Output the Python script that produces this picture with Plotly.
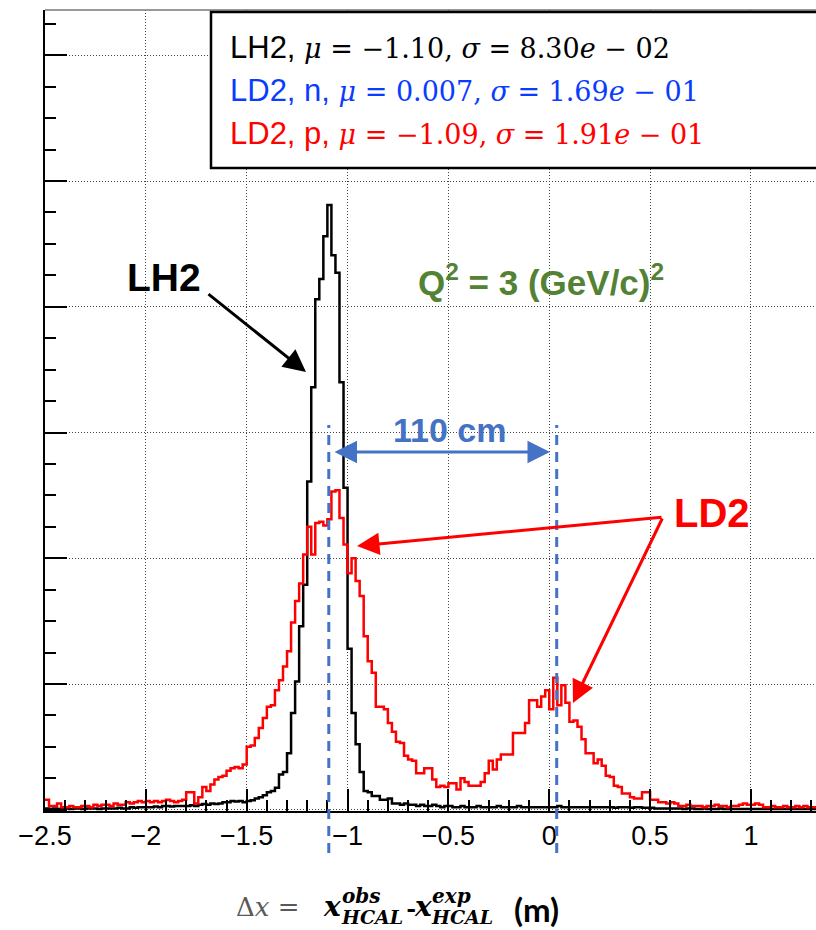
import numpy as np
import plotly.graph_objects as go

# ---------------- data ----------------
BIN_START = -2.50
BIN_WIDTH = 0.02

lh2_counts = [
    # -2.50 .. -2.02
    1, 0.5, 1, 0.5, 1, 1, 0.5, 1, 1, 0.5, 1, 1, 1, 0.5, 1, 1, 1, 1, 1.5, 1, 1, 2, 1.5, 2, 2,
    # -2.00 .. -1.52
    2, 2, 2.5, 2, 3, 3, 2.5, 3, 3, 3, 3, 3.5, 3, 4, 4.5, 4, 5, 4.5, 5, 6, 6, 7, 6.5, 7, 6,
    # -1.50 .. -1.02
    7, 7.5, 9, 10, 11.5, 14, 15, 17.5, 28, 30, 45, 77, 102, 146, 179, 261, 336, 406, 422, 456, 481, 441, 427, 340, 256,
    # -1.00 .. -0.52
    128, 77, 52, 30, 15, 14, 11, 11, 8, 8, 9, 5, 5, 4, 5, 4, 4, 3, 4, 3, 3, 4, 3, 2, 3,
    # -0.50 .. -0.02
    3, 2, 2, 3, 2, 2, 2, 3, 2, 2, 2, 2, 3, 2, 2, 2, 2, 3, 2, 2, 2, 2, 2, 2, 2,
    # 0.00 .. 0.48
    2, 2, 3, 2, 2, 2, 2, 2, 2, 2, 2, 2, 2, 2, 2, 2, 1.5, 2, 2, 2, 1.5, 2, 2, 1.5, 1.5,
    # 0.50 .. 1.32
    1.5, 1, 1, 1, 1, 1, 1, 1, 0.5, 1, 1, 0.5, 0.5, 1, 0.5, 0.5, 0.5, 1, 0.5, 0.5,
    0.5, 0.5, 0.5, 0.5, 0.5, 0.5, 0.5, 0.5, 0.5, 0.5, 0.5, 0.5, 0.5, 0.5, 0.5, 0.5,
    0.5, 0.5, 0.5, 0.5, 0.5, 0.5,
]

ld2_counts = [
    # -2.50 .. -2.02
    8, 3, 3, 5, 2, 2, 3, 2, 2, 3, 3, 2, 4, 3, 4, 4, 3, 5, 4, 4, 6, 5, 6, 7, 6,
    # -2.00 .. -1.52
    7, 6, 7, 6, 7, 8, 7, 6, 7, 8, 14, 14, 5, 10, 18, 15, 20, 24, 26, 27, 31, 33, 34, 33, 36,
    # -1.50 .. -1.02
    50, 51, 57, 65, 73, 82, 83, 95, 103, 114, 126, 149, 166, 180, 203, 225, 203, 228, 229, 226, 231, 253, 254, 232, 211,
    # -1.00 .. -0.52
    188, 200, 182, 170, 138, 118, 109, 82, 82, 80, 69, 62, 54, 53, 43, 40, 39, 29, 29, 33, 33, 24, 18, 19, 18,
    # -0.50 .. -0.02
    21, 21, 16, 25, 22, 19, 19, 19, 22, 29, 39, 32, 40, 44, 44, 44, 61, 61, 61, 69, 87, 87, 82, 90, 95,
    # 0.00 .. 0.48
    80, 105, 83, 99, 85, 70, 71, 66, 56, 45, 45, 37, 40, 35, 27, 26, 19, 18, 13, 13, 10, 9, 9, 14, 14,
    # 0.50 .. 1.32
    8, 8, 6, 6, 5, 6, 5, 3, 3, 4, 3, 3, 3, 2, 3, 3, 4, 3, 3, 2,
    3, 3, 4, 5, 4, 4, 5, 4, 2, 2, 3, 2, 2, 3, 2, 2, 3, 2, 3, 2,
    2, 2,
]

x_tick_vals = [-2.5, -2, -1.5, -1, -0.5, 0, 0.5, 1]
peak_positions = [-1.093, 0.037]   # dashed guide lines

legend_lines = [
    ("LH2, ", "<i>μ</i> = −1.10, <i>σ</i> = 8.30<i>e</i> − 02", "#000000"),
    ("LD2, n, ", "<i>μ</i> = 0.007, <i>σ</i> = 1.69<i>e</i> − 01", "#0a3cff"),
    ("LD2, p, ", "<i>μ</i> = −1.09, <i>σ</i> = 1.91<i>e</i> − 01", "#ff0000"),
]

assert len(lh2_counts) == len(ld2_counts)

# ---------------- layout geometry ----------------
FIG_W, FIG_H = 816, 930
L, R, T, B = 45, 816, 10, 811
XMIN, XMAX = -2.5, -2.5 + (R - L) / 201.7
YMIN, YMAX = -1.0, 636.0


def px(x):
    return (x - L) / (R - L)


def py(y):
    return (B - y) / (B - T)


def dx(v):
    return (v - XMIN) / (XMAX - XMIN)


n = len(lh2_counts)
edges = BIN_START + BIN_WIDTH * np.arange(n + 1)

fig = go.Figure()
for counts, color in [(lh2_counts, "black"), (ld2_counts, "#ff0000")]:
    fig.add_trace(go.Scatter(
        x=edges, y=list(counts) + [counts[-1]], mode="lines",
        line=dict(shape="hv", color=color, width=2.5),
        hoverinfo="skip",
    ))

shapes = []
# top frame line
shapes.append(dict(type="line", xref="paper", yref="paper", x0=0, x1=1, y0=1, y1=1,
                   line=dict(color="#777", width=1.5)))
# dashed peak lines
for p in peak_positions:
    shapes.append(dict(type="line", xref="paper", yref="paper", x0=dx(p), x1=dx(p),
                       y0=py(853), y1=py(425), layer="above",
                       line=dict(color="#4472C4", width=3, dash="10px,7px")))
# legend box
shapes.append(dict(type="rect", xref="paper", yref="paper", x0=px(211), x1=px(840),
                   y0=py(168), y1=py(12), layer="above", fillcolor="white",
                   line=dict(color="black", width=2.5)))

ann = []
DSERIF = "DejaVu Serif"
SANS = "Liberation Sans"
for i, (lab, math, col) in enumerate(legend_lines):
    yc = [47, 90, 133][i]
    ann.append(dict(xref="paper", yref="paper", x=px(228), y=py(yc), xanchor="left",
                    yanchor="middle", showarrow=False,
                    text=f"<span style='font-family:{SANS};font-size:31px'>{lab}</span>{math}",
                    font=dict(family=DSERIF, size=27, color=col)))


def label(t, x, y, size, color):
    return dict(xref="paper", yref="paper", x=px(x), y=py(y), xanchor="center",
                yanchor="middle", showarrow=False, text=t,
                font=dict(family=SANS, size=size, color=color))


ann.append(label("<b>LH2</b>", 164, 277, 39, "black"))
ann.append(label("<b>LD2</b>", 712, 513, 40, "#ff0000"))
ann.append(label("<b>Q<sup>2</sup> = 3 (GeV/c)<sup>2</sup></b>", 541, 280, 35, "#548235"))
ann.append(label("<b>110 cm</b>", 449, 430, 34, "#4472C4"))


def arrow(tail, tip, color, side="end"):
    return dict(xref="paper", yref="paper", x=px(tip[0]), y=py(tip[1]),
                ax=tail[0] - tip[0], ay=tail[1] - tip[1], text="", showarrow=True,
                arrowhead=2, arrowsize=1.5, arrowwidth=3, arrowcolor=color,
                arrowside=side, standoff=0, startstandoff=0, startarrowhead=2,
                startarrowsize=1.5)


ann.append(arrow((207, 293), (306, 372), "black"))
ann.append(arrow((663, 517), (357, 546), "#ff0000"))
ann.append(arrow((663, 517), (573, 703), "#ff0000"))
ann.append(arrow((333, 452), (550, 452), "#4472C4", side="end+start"))


# x-axis title pieces
def txt(t, x, y, size, family, color="black"):
    return dict(xref="paper", yref="paper", x=px(x), y=py(y), xanchor="left",
                yanchor="middle", showarrow=False, text=t,
                font=dict(family=family, size=size, color=color))


ann.append(txt("Δ<i>x</i> =", 234, 907, 26, DSERIF, "#595959"))
ann.append(txt("<b><i>x</i></b>", 321, 906, 28, DSERIF))
ann.append(txt("<b><i>obs</i></b>", 340, 896, 20, DSERIF))
ann.append(txt("<b><i>HCAL</i></b>", 339, 917, 19, DSERIF))
ann.append(txt("<b>-</b>", 404, 908, 28, "Lato"))
ann.append(txt("<b><i>x</i></b>", 412, 906, 28, DSERIF))
ann.append(txt("<b><i>exp</i></b>", 430, 896, 20, DSERIF))
ann.append(txt("<b><i>HCAL</i></b>", 429, 917, 19, DSERIF))
ann.append(txt("<b>(m)</b>", 512, 909, 33, "Lato"))

fig.update_layout(
    width=FIG_W, height=FIG_H,
    margin=dict(l=L, r=FIG_W - R, t=T, b=FIG_H - B),
    paper_bgcolor="white", plot_bgcolor="white", showlegend=False,
    shapes=shapes, annotations=ann,
    xaxis=dict(range=[XMIN, XMAX], tickvals=x_tick_vals, ticks="inside", ticklen=22,
               tickwidth=1.5, tickcolor="black", showline=True, linecolor="black",
               linewidth=2, showgrid=True, gridcolor="#444", griddash="1px,2px",
               gridwidth=1, zeroline=False,
               tickfont=dict(family=SANS, size=27, color="black"),
               minor=dict(dtick=0.1, tick0=0, ticks="inside", ticklen=11,
                          tickcolor="black", tickwidth=1.5, showgrid=False)),
    yaxis=dict(range=[YMIN, YMAX], tick0=0, dtick=100, ticks="inside", ticklen=22,
               tickwidth=1.5, tickcolor="black", showline=True, linecolor="black",
               linewidth=2, showgrid=True, gridcolor="#444", griddash="1px,2px",
               gridwidth=1, zeroline=False, showticklabels=False,
               minor=dict(dtick=25, tick0=0, ticks="inside", ticklen=11,
                          tickcolor="black", tickwidth=1.5, showgrid=False)),
)

fig.write_html("out.html")
